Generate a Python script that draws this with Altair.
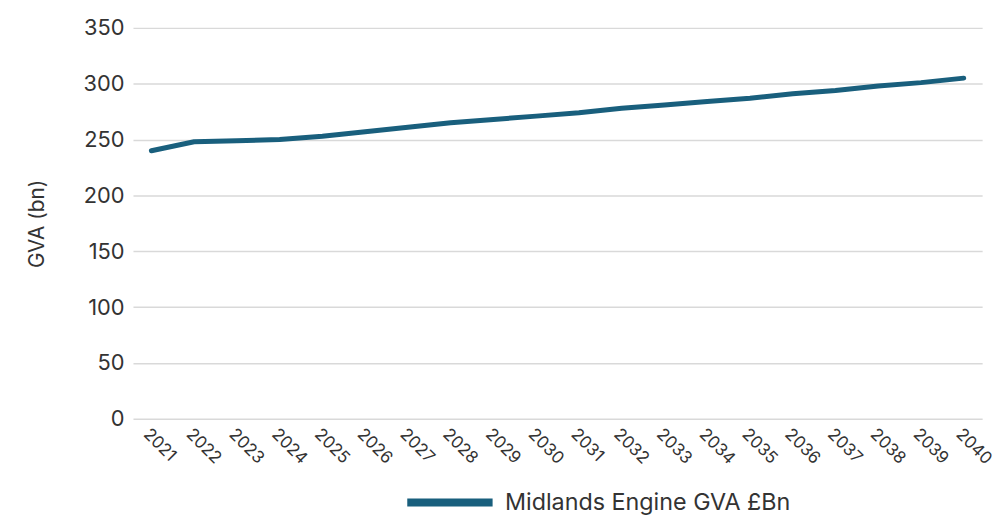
import altair as alt
import pandas as pd

years = [str(y) for y in range(2021, 2041)]
gva = [240, 248, 249, 250, 253, 257, 261, 265, 268, 271,
       274, 278, 281, 284, 287, 291, 294, 298, 301, 305]
series_name = "Midlands Engine GVA £Bn"

df = pd.DataFrame({"year": years, "gva": gva, "series": [series_name] * len(years)})

FONT = "Inter"
TEXT = "#333333"

chart = alt.Chart(df).mark_line(strokeWidth=5, strokeCap="round", strokeJoin="round").encode(
    x=alt.X("year:O", title=None, sort=years,
            scale=alt.Scale(type="point", padding=0.43),
            axis=alt.Axis(labelAngle=45, labelFontSize=17, labelColor=TEXT, labelFont=FONT,
                          domain=False, ticks=False, labelPadding=7, grid=False,
                          labelAlign="left", labelBaseline="top", labelOverlap=False)),
    y=alt.Y("gva:Q", title="GVA (bn)",
            scale=alt.Scale(domain=[0, 350], nice=False),
            axis=alt.Axis(values=list(range(0, 351, 50)), labelFontSize=22, labelColor=TEXT,
                          labelFont=FONT, titleFont=FONT, titleFontSize=21, titleColor=TEXT,
                          titleFontWeight="normal", domain=False, ticks=False, labelPadding=9,
                          titlePadding=36, gridColor="#d9d9d9", gridWidth=1.5)),
    color=alt.Color("series:N", scale=alt.Scale(range=["#195f7d"]),
                    legend=alt.Legend(title=None, orient="none", legendX=272, legendY=431,
                                      direction="horizontal", symbolType="stroke",
                                      symbolSize=7400, symbolStrokeWidth=8,
                                      labelFontSize=23.5, labelFont=FONT, labelColor=TEXT,
                                      labelOffset=8, labelLimit=0)),
).properties(
    width=856, height=394,
    autosize=alt.AutoSizeParams(type="none"),
    padding={"top": 18, "left": 126, "right": 18, "bottom": 95},
).configure_view(stroke=None)

chart.save("out.html", embed_options={"renderer": "svg", "actions": False})
